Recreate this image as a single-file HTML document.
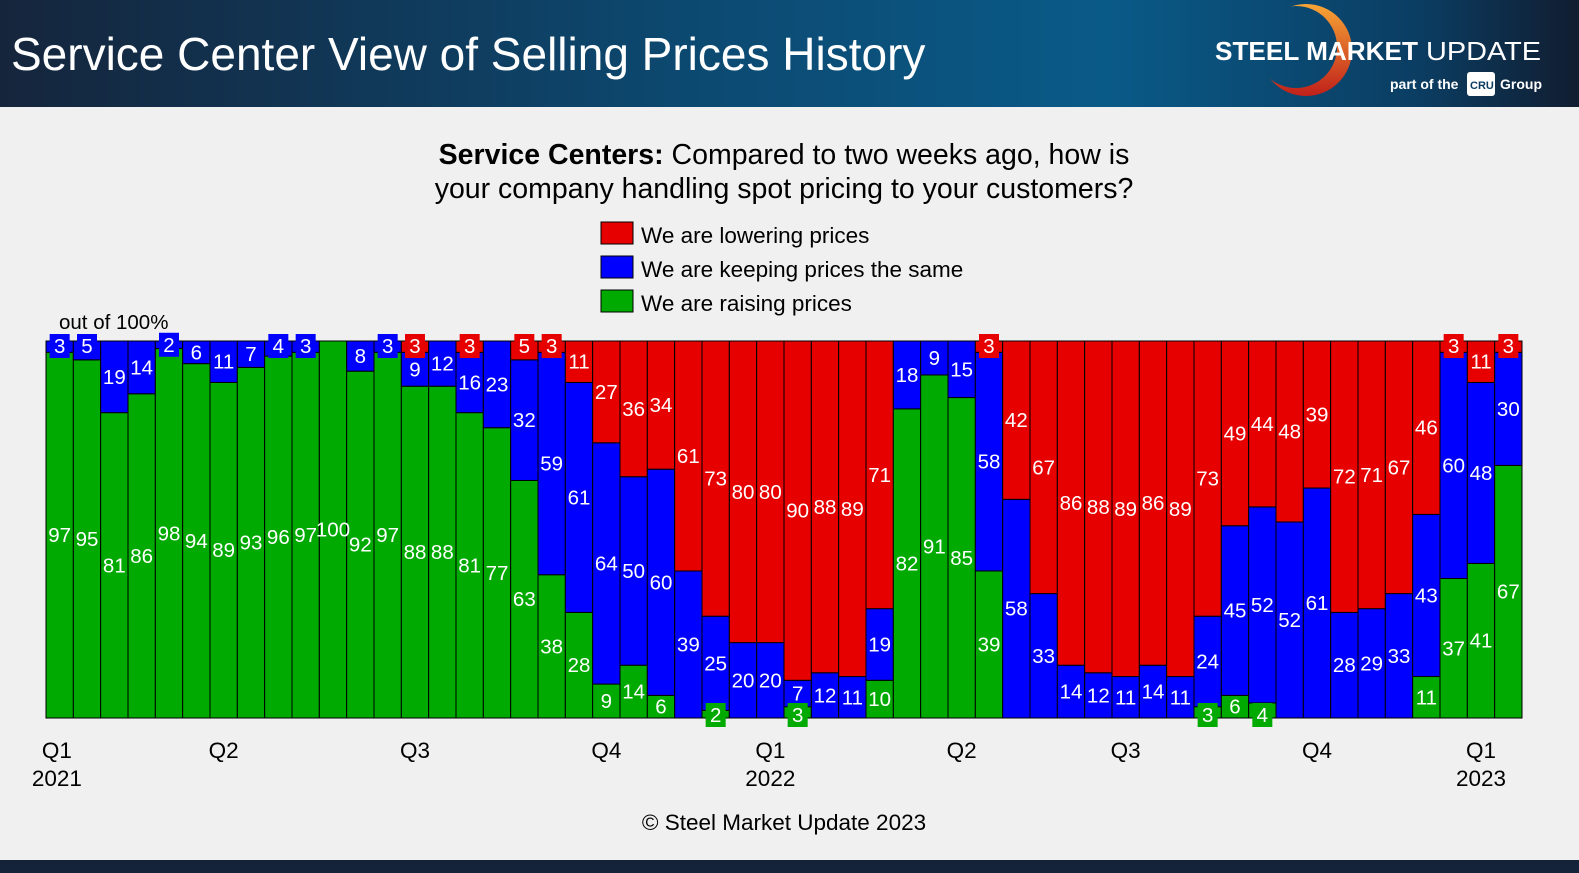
<!DOCTYPE html>
<html><head><meta charset="utf-8">
<style>
body{margin:0;width:1579px;height:873px;background:#f0f0f0;font-family:"Liberation Sans",sans-serif;overflow:hidden;position:relative}
#hdr{position:absolute;left:0;top:0;width:1579px;height:107px;background:linear-gradient(90deg,#15253c 0%,#0c4a72 45%,#0a5a88 70%,#0b3d62 90%,#111d30 100%)}
#title{position:absolute;left:11px;top:27px;color:#fff;font-size:46px}
#foot{position:absolute;left:0;top:860px;width:1579px;height:13px;background:#14233a}
</style></head><body>
<div id="hdr">
<div id="title">Service Center View of Selling Prices History</div>
<svg style="position:absolute;left:1200px;top:0" width="379" height="107">
<defs><linearGradient id="og" x1="0" y1="0" x2="0" y2="1"><stop offset="0" stop-color="#f7a535"/><stop offset="1" stop-color="#c0201a"/></linearGradient>
<mask id="cm"><rect x="0" y="0" width="379" height="107" fill="#fff"/><circle cx="96" cy="47" r="41" fill="#000"/></mask></defs>
<circle cx="106" cy="50" r="46" fill="url(#og)" mask="url(#cm)"/>
<text x="15" y="60" fill="#fff" font-size="26" font-weight="bold" font-family="Liberation Sans" textLength="203" lengthAdjust="spacingAndGlyphs">STEEL MARKET</text>
<text x="226" y="60" fill="#fff" font-size="26" font-family="Liberation Sans" textLength="115" lengthAdjust="spacingAndGlyphs">UPDATE</text>
<text x="190" y="89" fill="#fff" font-size="14" font-weight="bold" font-family="Liberation Sans">part of the</text>
<rect x="267" y="72" width="28" height="24" rx="3" fill="#fff"/>
<text x="270" y="89" fill="#0b3d62" font-size="11" font-weight="bold" font-family="Liberation Sans">CRU</text>
<text x="300" y="89" fill="#fff" font-size="14" font-weight="bold" font-family="Liberation Sans">Group</text>
</svg>
</div>
<svg id="chart" width="1579" height="873" style="position:absolute;left:0;top:0"></svg>
<div id="foot"></div>
<script>
const greenVals=[97,95,81,86,98,94,89,93,96,97,100,92,97,88,88,81,77,63,38,28,9,14,6,0,2,0,0,3,0,0,10,82,91,85,39,0,0,0,0,0,0,0,3,6,4,0,0,0,0,0,11,37,41,67];
const blueVals=[3,5,19,14,2,6,11,7,4,3,0,8,3,9,12,16,23,32,59,61,64,50,60,39,25,20,20,7,12,11,19,18,9,15,58,58,33,14,12,11,14,11,24,45,52,52,61,28,29,33,43,60,48,30];
const redVals=[0,0,0,0,0,0,0,0,0,0,0,0,0,3,0,3,0,5,3,11,27,36,34,61,73,80,80,90,88,89,71,0,0,0,3,42,67,86,88,89,86,89,73,49,44,48,39,72,71,67,46,3,11,3];
const quarterLabels=[["Q1","2021"],["Q2",""],["Q3",""],["Q4",""],["Q1","2022"],["Q2",""],["Q3",""],["Q4",""],["Q1","2023"]];
const quarterPos=[0.4,6.5,13.5,20.5,26.5,33.5,39.5,46.5,52.5];
const svg=document.getElementById('chart');
const NS='http://www.w3.org/2000/svg';
const X0=46,X1=1522,Y0=341,Y1=718,N=greenVals.length,BW=(X1-X0)/N;
const xs=i=>X0+i*BW;
const ys=v=>Y1-(Y1-Y0)*v/100;
function mk(t,a){const e=document.createElementNS(NS,t);for(const k in a)e.setAttribute(k,a[k]);svg.appendChild(e);return e;}
function txt(x,y,s,size,fill,anchor,weight){const t=mk('text',{x:x,y:y,'font-size':size,fill:fill,'text-anchor':anchor||'middle','font-family':'Liberation Sans, sans-serif'});if(weight)t.setAttribute('font-weight',weight);t.textContent=s;return t;}
let t1=mk('text',{x:784,y:164,'font-size':28.5,'text-anchor':'middle','font-family':'Liberation Sans, sans-serif',fill:'#000'});


t1.innerHTML='<tspan font-weight="bold">Service Centers:</tspan> Compared to two weeks ago, how is';
let t2=txt(784,198,'your company handling spot pricing to your customers?',28.5,'#000');


const legend=[['#e60000','We are lowering prices'],['#0000ff','We are keeping prices the same'],['#00aa00','We are raising prices']];
legend.forEach((l,i)=>{
 const r=mk('rect',{x:601,y:222+i*34,width:32,height:22,fill:l[0],stroke:'#000','stroke-width':1});
 
 
 const t=txt(641,243+i*34,l[1],22.5,'#000','start');
 
 
});
const oo=txt(59,329,'out of 100%',20.5,'#000','start');


const labels=[];
for(let i=0;i<N;i++){
 const segs=[[greenVals[i],'#00aa00'],[blueVals[i],'#0000ff'],[redVals[i],'#e60000']];
 let base=0;
 segs.forEach((s,k)=>{
  const v=s[0]; if(v<=0)return;
  const r=mk('rect',{x:xs(i),y:ys(base+v),width:BW,height:ys(base)-ys(base+v),fill:s[1],stroke:'#000','stroke-width':1});
  
  
  labels.push([i,base+v/2,v,s[1],k]);
  base+=v;
 });
}
labels.forEach(L=>{
 const [i,mid,v,c,k]=L;
 const cx=xs(i)+BW/2;
 let cy=ys(mid);
 if(v<=5){
  if(k===0)cy=Math.max(cy,Y1-3);
  else if(mid>90)cy=Math.min(cy,Y0+5);
  const b=mk('rect',{x:cx-10,y:cy-12,width:20,height:24,fill:c});
  
  
 }
 const t=txt(cx,cy+7,String(v),20.5,'#fff');
 
 
});
quarterLabels.forEach((q,j)=>{
 const cx=xs(quarterPos[j]);
 const a=txt(cx,758,q[0],22.5,'#000');
 
 
 if(q[1]){const b=txt(cx,786,q[1],22.5,'#000');
 
 }
});
const cp=txt(784,830,'© Steel Market Update 2023',22.5,'#000');


</script>
</body></html>
